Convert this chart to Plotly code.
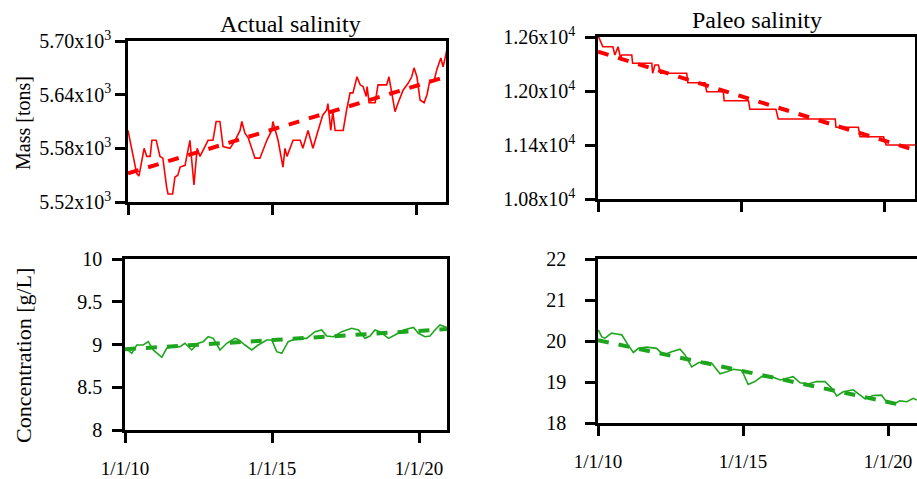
import plotly.graph_objects as go

# ---------------- data ----------------
x_tickvals = [2010, 2015, 2020]
x_ticktext = ["1/1/10", "1/1/15", "1/1/20"]

# Actual salinity - mass [tons]
am_years = [2010.00, 2010.30, 2010.38, 2010.56, 2010.65, 2010.77, 2010.83, 2010.98, 2011.11, 2011.21,
            2011.34, 2011.39, 2011.55, 2011.63, 2011.73, 2011.81, 2011.98, 2012.15, 2012.29, 2012.40,
            2012.50, 2012.60, 2012.78, 2012.95, 2013.06, 2013.19, 2013.30, 2013.54, 2013.72, 2013.89,
            2013.95, 2014.06, 2014.17, 2014.41, 2014.58, 2014.82, 2014.99, 2015.03, 2015.21, 2015.38,
            2015.45, 2015.52, 2015.73, 2015.98, 2016.07, 2016.25, 2016.42, 2016.60, 2016.76, 2016.90,
            2016.94, 2017.04, 2017.11, 2017.19, 2017.47, 2017.59, 2017.71, 2017.81, 2017.95, 2018.06,
            2018.16, 2018.27, 2018.30, 2018.37, 2018.58, 2018.68, 2018.98, 2019.06, 2019.16, 2019.27,
            2019.38, 2019.55, 2019.73, 2019.85, 2019.93, 2020.03, 2020.14, 2020.28, 2020.38, 2020.48,
            2020.63, 2020.72, 2020.86, 2020.94, 2021.07]
am_mass = [5600, 5552, 5549, 5580, 5571, 5571, 5589, 5589, 5571, 5569,
           5537, 5529, 5529, 5548, 5550, 5559, 5561, 5589, 5539, 5580,
           5571, 5578, 5589, 5589, 5610, 5610, 5582, 5580, 5589, 5600,
           5610, 5597, 5592, 5569, 5569, 5589, 5600, 5610, 5589, 5559,
           5580, 5571, 5589, 5589, 5580, 5600, 5580, 5600, 5617, 5623,
           5630, 5600, 5621, 5600, 5600, 5623, 5642, 5642, 5660, 5651,
           5649, 5638, 5649, 5631, 5631, 5651, 5651, 5660, 5643, 5621,
           5631, 5645, 5653, 5660, 5670, 5660, 5634, 5631, 5640, 5656,
           5656, 5668, 5681, 5671, 5690]
am_trend_years = [2010.0, 2021.04]
am_trend = [5552, 5660]

# Paleo salinity - mass [tons]
pm_years = [2010.02, 2010.17, 2010.52, 2010.59, 2010.70, 2010.79, 2010.83, 2011.18, 2011.21, 2011.88,
            2011.91, 2011.99, 2012.11, 2012.19, 2013.10, 2013.14, 2013.74, 2013.80, 2014.38, 2014.41,
            2015.26, 2015.31, 2016.22, 2016.30, 2018.29, 2018.32, 2019.10, 2019.16, 2019.98, 2020.07,
            2021.08]
pm_mass = [12603, 12492, 12492, 12400, 12492, 12367, 12400, 12400, 12308, 12308,
           12197, 12289, 12289, 12197, 12197, 12092, 12092, 11992, 11992, 11892,
           11892, 11797, 11797, 11689, 11689, 11597, 11597, 11492, 11492, 11400,
           11400]
pm_trend_years = [2010.0, 2020.9]
pm_trend = [12437, 11360]

# Actual salinity - concentration [g/L]
ac_years = [2010.03, 2010.23, 2010.40, 2010.62, 2010.79, 2010.96, 2011.25, 2011.42, 2011.59, 2011.87,
            2012.04, 2012.27, 2012.49, 2012.66, 2012.83, 2013.00, 2013.23, 2013.46, 2013.74, 2013.85,
            2014.08, 2014.31, 2014.53, 2014.82, 2014.99, 2015.16, 2015.33, 2015.55, 2015.84, 2016.18,
            2016.46, 2016.69, 2016.86, 2017.09, 2017.37, 2017.71, 2017.94, 2018.16, 2018.33, 2018.50,
            2018.67, 2018.96, 2019.18, 2019.47, 2019.81, 2019.98, 2020.20, 2020.37, 2020.54, 2020.71,
            2020.88, 2021.00]
ac_conc = [8.956, 8.897, 8.994, 8.994, 9.033, 8.936, 8.850, 8.956, 8.974, 8.974,
           9.014, 8.936, 9.014, 9.033, 9.091, 9.072, 8.936, 9.014, 9.072, 9.060,
           8.994, 8.936, 8.994, 9.053, 9.053, 8.916, 8.897, 9.033, 9.072, 9.072,
           9.150, 9.170, 9.099, 9.091, 9.150, 9.190, 9.170, 9.072, 9.099, 9.170,
           9.150, 9.072, 9.111, 9.170, 9.200, 9.131, 9.091, 9.099, 9.170, 9.228,
           9.208, 9.190]
ac_trend_years = [2010.0, 2020.95]
ac_trend = [8.944, 9.18]

# Paleo salinity - concentration [g/L]
pc_years = [2010.01, 2010.13, 2010.24, 2010.47, 2010.64, 2010.82, 2011.04, 2011.22, 2011.39, 2011.68,
            2012.02, 2012.25, 2012.54, 2012.83, 2013.00, 2013.23, 2013.46, 2013.69, 2013.92, 2014.21,
            2014.44, 2014.67, 2014.96, 2015.18, 2015.41, 2015.64, 2015.99, 2016.28, 2016.73, 2016.97,
            2017.25, 2017.54, 2017.83, 2018.06, 2018.23, 2018.46, 2018.80, 2018.98, 2019.21, 2019.49,
            2019.78, 2019.96, 2020.18, 2020.41, 2020.65, 2020.87, 2020.99]
pc_conc = [20.27, 20.10, 20.07, 20.19, 20.17, 20.15, 19.90, 19.72, 19.82, 19.85,
           19.82, 19.66, 19.74, 19.80, 19.66, 19.37, 19.47, 19.50, 19.46, 19.20,
           19.25, 19.31, 19.28, 18.94, 19.01, 19.13, 19.13, 19.05, 19.13, 18.98,
           18.95, 19.01, 19.01, 18.85, 18.66, 18.76, 18.81, 18.72, 18.59, 18.67,
           18.68, 18.50, 18.46, 18.54, 18.52, 18.60, 18.56]
pc_trend_years = [2010.0, 2020.6]
pc_trend = [20.02, 18.42]

tl_ticks = [5520, 5580, 5640, 5700]
tl_text = ["5.52x10<sup>3</sup>", "5.58x10<sup>3</sup>", "5.64x10<sup>3</sup>", "5.70x10<sup>3</sup>"]
tr_ticks = [10800, 11400, 12000, 12600]
tr_text = ["1.08x10<sup>4</sup>", "1.14x10<sup>4</sup>", "1.20x10<sup>4</sup>", "1.26x10<sup>4</sup>"]
bl_ticks = [8, 8.5, 9, 9.5, 10]
bl_text = ["8", "8.5", "9", "9.5", "10"]
br_ticks = [18, 19, 20, 21, 22]
br_text = ["18", "19", "20", "21", "22"]

# ---------------- figure ----------------
W, H = 917, 479
RED = "#ff0000"
GREEN = "#1ea51e"
FONT = "Liberation Serif"


def px_x(p):
    return p / W


def px_y(p):
    return 1 - p / H


fig = go.Figure()

panels = [
    ("x", "y", am_years, am_mass, am_trend_years, am_trend, RED),
    ("x2", "y2", pm_years, pm_mass, pm_trend_years, pm_trend, RED),
    ("x3", "y3", ac_years, ac_conc, ac_trend_years, ac_trend, GREEN),
    ("x4", "y4", pc_years, pc_conc, pc_trend_years, pc_trend, GREEN),
]
for xa, ya, xs, ys, txs, tys, col in panels:
    fig.add_trace(go.Scatter(x=xs, y=ys, mode="lines", xaxis=xa, yaxis=ya,
                             line=dict(color=col, width=1.6), showlegend=False, hoverinfo="skip"))
    fig.add_trace(go.Scatter(x=txs, y=tys, mode="lines", xaxis=xa, yaxis=ya,
                             line=dict(color=col, width=4, dash="11px,10px"), showlegend=False,
                             hoverinfo="skip"))

axis_common = dict(showline=True, linecolor="black", linewidth=2.5, ticks="outside", ticklen=10,
                   tickwidth=2.5, tickcolor="black", showgrid=False, zeroline=False, automargin=False,
                   tickfont=dict(family=FONT, size=20, color="black"))
xfont = dict(family=FONT, size=19, color="black")

fig.update_layout(
    template="none",
    width=W, height=H, margin=dict(l=0, r=0, t=0, b=0, autoexpand=False),
    paper_bgcolor="white", plot_bgcolor="white",
    font=dict(family=FONT, color="black"),
    xaxis=dict(domain=[px_x(128), px_x(446)], range=[2010, 2021.04], anchor="y",
               tickvals=x_tickvals, ticktext=x_ticktext, showticklabels=False, mirror=True,
               **axis_common),
    yaxis=dict(domain=[px_y(202), px_y(41)], range=[5520, 5700], anchor="x",
               tickvals=tl_ticks, ticktext=tl_text, mirror=True, ticklabelstandoff=0, **axis_common),
    xaxis2=dict(domain=[px_x(598), px_x(915)], range=[2010, 2021.08], anchor="y2",
                tickvals=x_tickvals, ticktext=x_ticktext, showticklabels=False, mirror=True,
                **axis_common),
    yaxis2=dict(domain=[px_y(199), px_y(37)], range=[10800, 12600], anchor="x2",
                tickvals=tr_ticks, ticktext=tr_text, mirror=True, ticklabelstandoff=6, **axis_common),
    xaxis3=dict(domain=[px_x(125), px_x(447)], range=[2010, 2020.95], anchor="y3",
                tickvals=x_tickvals, ticktext=x_ticktext, mirror=True, ticklabelstandoff=9,
                **{**axis_common, "tickfont": xfont}),
    yaxis3=dict(domain=[px_y(430), px_y(259)], range=[8, 10], anchor="x3",
                tickvals=bl_ticks, ticktext=bl_text, mirror=True, ticklabelstandoff=6, **axis_common),
    xaxis4=dict(domain=[px_x(598), 1.0], range=[2010, 2021.0], anchor="y4",
                tickvals=x_tickvals, ticktext=x_ticktext, mirror=True, ticklabelstandoff=9,
                **{**axis_common, "tickfont": xfont}),
    yaxis4=dict(domain=[px_y(423), px_y(259)], range=[18, 22], anchor="x4",
                tickvals=br_ticks, ticktext=br_text, mirror=False, ticklabelstandoff=15, **axis_common),
)

annos = [
    dict(text="Actual salinity", x=px_x(290), y=px_y(24), size=24, angle=0),
    dict(text="Paleo salinity", x=px_x(757), y=px_y(20), size=24, angle=0),
    dict(text="Mass [tons]", x=px_x(23), y=px_y(123), size=20, angle=-90),
    dict(text="Concentration [g/L]", x=px_x(23), y=px_y(356), size=22, angle=-90),
]
for a in annos:
    fig.add_annotation(text=a["text"], x=a["x"], y=a["y"], xref="paper", yref="paper",
                       xanchor="center", yanchor="middle", showarrow=False, textangle=a["angle"],
                       font=dict(family=FONT, size=a["size"], color="black"))

fig.write_html("out.html")
